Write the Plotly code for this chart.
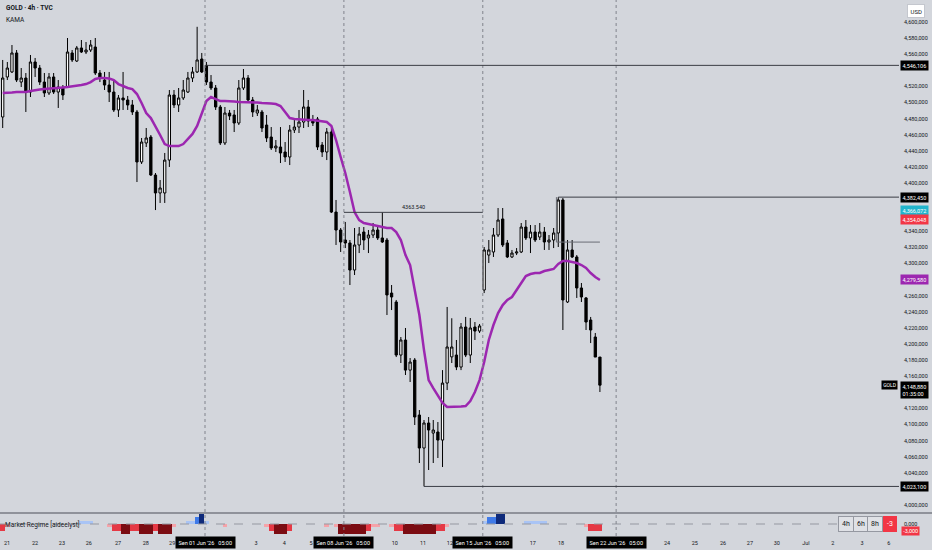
import plotly.graph_objects as go

# ---- data (GOLD 4h, TVC) ----
opens = [
    4482.0, 4531.7, 4537.9, 4561.5, 4525.4, 4530.4, 4513.0, 4550.3, 4542.8, 4525.4,
    4511.8, 4531.7, 4513.0, 4518.0, 4519.2, 4561.5, 4551.5, 4567.7, 4562.7, 4565.2,
    4568.9, 4536.6, 4527.9, 4521.7, 4513.0, 4490.7, 4505.6, 4503.1, 4496.9, 4488.2,
    4426.1, 4449.7, 4457.1, 4409.9, 4387.6, 4387.6, 4428.5, 4509.3, 4496.9, 4505.6,
    4513.0, 4530.4, 4537.9, 4554.0, 4546.1, 4525.4, 4518.0, 4494.4, 4449.7, 4486.9,
    4484.5, 4474.5, 4518.0, 4530.4, 4503.1, 4486.9, 4488.2, 4472.0, 4457.1, 4443.5,
    4444.7, 4438.5, 4432.3, 4465.8, 4469.5, 4475.7, 4494.4, 4478.2, 4479.5, 4447.2,
    4438.5, 4463.3, 4363.9, 4341.6, 4329.2, 4325.5, 4291.9, 4323.0, 4339.1, 4331.7,
    4335.4, 4341.6, 4331.7, 4329.2, 4263.3, 4252.2, 4186.3, 4205.0, 4167.6, 4180.1,
    4111.8, 4070.8, 4101.9, 4089.4, 4090.7, 4080.7, 4151.5, 4184.0, 4186.3, 4171.4,
    4221.1, 4186.3, 4221.1, 4216.1, 4267.1, 4310.5, 4314.3, 4335.4, 4355.3, 4325.5,
    4308.1, 4313.0, 4314.3, 4345.3, 4331.7, 4339.1, 4332.9, 4339.1, 4326.7, 4329.2,
    4337.9, 4378.9, 4252.2, 4316.8, 4308.1, 4269.6, 4257.2, 4229.8, 4208.7, 4183.8,
]
highs = [
    4552.8, 4550.3, 4571.4, 4565.2, 4542.8, 4536.6, 4559.0, 4555.3, 4546.6, 4536.6,
    4536.6, 4536.6, 4527.9, 4521.7, 4580.1, 4565.2, 4570.2, 4577.6, 4575.1, 4577.6,
    4580.1, 4540.3, 4537.9, 4537.9, 4527.9, 4509.3, 4537.9, 4508.1, 4503.1, 4490.7,
    4455.9, 4468.3, 4459.6, 4412.4, 4403.7, 4437.3, 4515.5, 4515.5, 4518.0, 4527.9,
    4537.9, 4544.1, 4594.0, 4561.5, 4550.3, 4534.1, 4521.7, 4496.9, 4494.4, 4490.7,
    4490.7, 4527.9, 4541.6, 4534.1, 4506.8, 4496.9, 4490.7, 4484.5, 4469.5, 4453.4,
    4469.5, 4450.9, 4472.0, 4478.2, 4490.7, 4515.5, 4503.1, 4484.5, 4482.0, 4450.9,
    4468.3, 4468.3, 4378.9, 4344.1, 4351.6, 4329.2, 4344.1, 4345.3, 4345.3, 4341.6,
    4350.3, 4347.8, 4363.5, 4331.7, 4273.3, 4254.7, 4208.7, 4219.9, 4182.6, 4182.6,
    4118.0, 4105.6, 4109.3, 4105.6, 4103.1, 4167.6, 4246.0, 4232.0, 4205.0, 4226.1,
    4233.6, 4232.3, 4227.3, 4224.9, 4320.5, 4329.2, 4344.1, 4368.9, 4368.9, 4329.2,
    4316.8, 4319.2, 4350.3, 4354.0, 4347.8, 4347.8, 4350.3, 4345.3, 4335.4, 4344.1,
    4382.45, 4381.4, 4329.2, 4329.2, 4310.5, 4275.8, 4258.4, 4233.6, 4213.7, 4183.8,
]
lows = [
    4468.3, 4527.9, 4536.6, 4525.4, 4519.2, 4488.2, 4506.8, 4531.7, 4521.7, 4506.8,
    4509.3, 4510.5, 4493.2, 4503.1, 4518.0, 4550.3, 4550.3, 4561.5, 4560.2, 4562.7,
    4534.1, 4525.4, 4515.5, 4500.6, 4488.2, 4482.0, 4490.7, 4490.7, 4484.5, 4401.2,
    4423.6, 4444.7, 4408.7, 4366.4, 4375.2, 4375.2, 4419.9, 4493.2, 4488.2, 4503.1,
    4511.8, 4525.4, 4536.6, 4536.6, 4521.7, 4515.5, 4490.7, 4447.2, 4447.2, 4478.2,
    4463.3, 4472.0, 4515.5, 4500.6, 4482.0, 4483.2, 4463.3, 4450.9, 4441.0, 4438.5,
    4424.8, 4426.1, 4422.3, 4462.1, 4462.1, 4468.3, 4469.5, 4470.8, 4441.0, 4432.3,
    4428.5, 4362.7, 4323.0, 4314.3, 4319.2, 4273.3, 4285.7, 4313.0, 4316.8, 4313.0,
    4331.7, 4329.2, 4325.5, 4236.0, 4242.2, 4183.8, 4176.4, 4161.5, 4152.8, 4099.4,
    4052.2, 4023.1, 4043.5, 4052.2, 4058.4, 4047.2, 4142.8, 4176.4, 4167.6, 4167.6,
    4183.8, 4176.4, 4205.0, 4213.7, 4263.3, 4300.6, 4308.1, 4332.9, 4320.5, 4306.8,
    4306.8, 4310.5, 4313.0, 4329.2, 4313.0, 4326.7, 4329.2, 4316.8, 4316.8, 4319.2,
    4320.5, 4217.4, 4250.9, 4306.8, 4257.2, 4252.2, 4217.4, 4201.2, 4183.8, 4140.4,
]
closes = [
    4530.4, 4542.8, 4561.5, 4527.9, 4530.4, 4513.0, 4550.3, 4542.8, 4525.4, 4511.8,
    4531.7, 4513.0, 4519.2, 4509.3, 4562.7, 4552.8, 4567.7, 4562.7, 4565.2, 4571.4,
    4536.6, 4530.4, 4521.7, 4513.0, 4490.7, 4505.6, 4503.1, 4496.9, 4488.2, 4426.1,
    4450.9, 4455.9, 4409.9, 4387.6, 4393.8, 4428.5, 4509.3, 4496.9, 4505.6, 4515.5,
    4530.4, 4537.9, 4552.8, 4537.9, 4525.4, 4518.0, 4494.4, 4449.7, 4486.9, 4483.2,
    4474.5, 4518.0, 4530.4, 4503.1, 4488.2, 4490.7, 4468.3, 4455.9, 4443.5, 4445.9,
    4437.3, 4432.3, 4465.8, 4469.5, 4475.7, 4494.4, 4477.0, 4474.5, 4444.7, 4438.5,
    4463.3, 4363.9, 4341.6, 4326.7, 4325.5, 4291.9, 4323.0, 4336.6, 4329.2, 4335.4,
    4341.6, 4331.7, 4326.7, 4260.9, 4258.4, 4186.3, 4205.0, 4167.6, 4177.6, 4109.3,
    4070.8, 4101.9, 4093.2, 4093.2, 4080.7, 4151.5, 4196.3, 4196.3, 4171.4, 4221.1,
    4186.3, 4219.9, 4216.1, 4222.4, 4316.8, 4316.8, 4335.4, 4354.0, 4323.0, 4308.1,
    4313.0, 4314.3, 4345.3, 4331.7, 4339.1, 4329.2, 4339.1, 4326.7, 4329.2, 4337.9,
    4378.9, 4254.7, 4316.8, 4308.1, 4269.6, 4258.4, 4227.3, 4217.4, 4183.8, 4148.88,
]
kama = [
    4511.8, 4511.8, 4512.4, 4513.0, 4513.0, 4513.0, 4514.3, 4515.5, 4516.1, 4516.7,
    4517.4, 4518.0, 4518.0, 4518.6, 4519.2, 4519.9, 4520.5, 4521.7, 4522.9, 4525.4,
    4529.2, 4530.4, 4530.4, 4529.8, 4527.9, 4522.9, 4520.5, 4518.0, 4516.7, 4510.5,
    4499.4, 4486.9, 4480.7, 4470.8, 4459.6, 4448.4, 4445.9, 4445.9, 4445.9, 4448.4,
    4454.6, 4460.9, 4470.8, 4485.7, 4501.8, 4506.8, 4504.3, 4501.8, 4501.8, 4501.8,
    4501.2, 4500.6, 4500.6, 4500.6, 4500.6, 4500.0, 4499.4, 4499.4, 4498.7, 4498.1,
    4495.6, 4488.2, 4480.7, 4479.5, 4478.9, 4478.2, 4478.2, 4478.2, 4477.6, 4477.0,
    4475.7, 4470.8, 4453.4, 4432.3, 4412.4, 4388.8, 4363.9, 4354.0, 4350.3, 4349.1,
    4347.8, 4346.6, 4345.3, 4344.1, 4344.1, 4339.1, 4329.2, 4310.5, 4298.1, 4267.1,
    4236.0, 4192.5, 4155.2, 4145.3, 4135.4, 4126.7, 4121.7, 4121.7, 4121.7, 4122.4,
    4123.0, 4129.2, 4140.4, 4155.2, 4177.6, 4205.0, 4223.6, 4238.5, 4248.4, 4254.7,
    4258.4, 4267.1, 4277.0, 4284.5, 4286.9, 4288.2, 4288.2, 4290.7, 4291.9, 4293.2,
    4299.4, 4303.1, 4303.1, 4301.8, 4300.6, 4298.1, 4294.4, 4288.2, 4283.2, 4279.58,
]
# Market Regime [aideelyst] histogram (-3 .. +3)
regime = [
    -2, -1, 0, 0, 0, 0, 0, 0, 0, 0,
    0, 0, 0, 0, 0, 0, 0, 1, 1, 1,
    0, 0, 0, -1, -2, -2, -3, -3, -2, -2,
    -3, -3, -3, -2, -3, -3, -3, -1, 0, 0,
    1, 1, 2, 3, 1, 0, 0, 0, -1, 0,
    0, 0, 0, 0, 0, 0, 0, -1, -2, -3,
    -3, -3, -2, 0, 0, 0, 0, 0, 0, 0,
    -1, 0, -1, -3, -3, -3, -3, -3, -3, -2,
    -1, -1, 0, 0, -1, -2, -2, -3, -3, -3,
    -3, -3, -3, -3, -2, -2, -1, 0, 0, 0,
    0, 0, 0, 0, 1, 2, 2, 3, 3, 0,
    0, 0, 0, 1, 1, 1, 1, 1, 0, 0,
    0, 0, 0, 0, 0, 0, -1, -2, -2, -2,
]

# time axis (bar index positions of the date labels)
day_ticks = [0.93, 6.98, 12.8, 18.6, 24.9, 30.9, 36.6, 54.7, 60.8, 66.6, 84.7, 90.8,
             96.6, 114.5, 120.6, 143.5, 149.5, 155.6, 161.4, 167.2, 173.5, 179.3, 185.6, 191.4]
day_labels = ["21", "22", "23", "26", "27", "28", "29", "3", "4", "5", "10", "11",
              "12", "17", "18", "24", "25", "26", "27", "30", "Jul", "2", "3", "6"]
week_starts = [43.7, 73.7, 103.7, 132.5]
week_labels = ["Sen 01 Jun '26", "Sen 08 Jun '26", "Sen 15 Jun '26", "Sen 22 Jun '26"]

price_ticks = [4000, 4040, 4060, 4080, 4100, 4120, 4160, 4180, 4200, 4220, 4240,
               4260, 4300, 4320, 4340, 4400, 4420, 4440, 4460, 4480, 4500, 4520, 4560,
               4580, 4600]

# horizontal levels: (price, start bar)
ray_prices = [4546.106, 4382.45, 4023.1]
ray_starts = [44, 120, 91]
seg_price = 4363.54
seg_from, seg_to = 73.7, 103.7
box_top, box_bottom = 4382.45, 4326.6
box_from, box_to = 119.6, 129

# price-scale badges
badges = [
    (4546.106, "4,546,106", "#000000"),
    (4382.45, "4,382,450", "#000000"),
    (4366.072, "4,366,072", "#22b5cc"),
    (4354.048, "4,354,048", "#f23645"),
    (4279.58, "4,279,580", "#9c27b0"),
    (4023.1, "4,023,100", "#000000"),
]

idx = list(range(len(closes)))
W, H = 932, 550
PLOT_R = 899 / W
XR = [-0.583, 193.6]
BG = "#d3d6dc"
FONT = "Roboto"
TXT = "#131722"


def py(pix):
    return 1 - pix / H


regime_colors = {-3: "#7b0c12", -2: "#e53945", -1: "#f5a3a9", 0: "rgba(0,0,0,0)",
                 1: "#a9c4f5", 2: "#3f7ae8", 3: "#0e2a7a"}

fig = go.Figure()

fig.add_trace(go.Candlestick(
    x=idx, open=opens, high=highs, low=lows, close=closes,
    increasing=dict(line=dict(color="#000000", width=1), fillcolor="#ffffff"),
    decreasing=dict(line=dict(color="#000000", width=1), fillcolor="#000000"),
    whiskerwidth=0, hoverinfo="skip",
))
fig.add_trace(go.Scatter(
    x=idx, y=kama, mode="lines",
    line=dict(color="#9c27b0", width=2.5), hoverinfo="skip",
))
fig.add_trace(go.Bar(
    x=idx, y=regime, yaxis="y2", width=1.0,
    marker=dict(color=[regime_colors[v] for v in regime], line=dict(width=0)),
    hoverinfo="skip",
))

shapes = []
# pane separator
shapes.append(dict(type="line", xref="paper", yref="paper", x0=0, x1=1,
                   y0=py(513), y1=py(513), line=dict(color="#8f929a", width=2)))
# regime zero line
shapes.append(dict(type="line", xref="x", yref="y2", x0=XR[0], x1=XR[1], y0=0, y1=0,
                   line=dict(color="#9598a1", width=1, dash="dash")))
# week separators
for w in week_starts:
    shapes.append(dict(type="line", xref="x", yref="paper", x0=w, x1=w,
                       y0=py(536), y1=1, line=dict(color="#80838c", width=1, dash="dot")))
# level rays
for p, s in zip(ray_prices, ray_starts):
    shapes.append(dict(type="line", xref="x", yref="y", x0=s, x1=XR[1], y0=p, y1=p,
                       line=dict(color="#3a3d45", width=1)))
shapes.append(dict(type="line", xref="x", yref="y", x0=seg_from, x1=seg_to,
                   y0=seg_price, y1=seg_price, line=dict(color="#3a3d45", width=1)))
shapes.append(dict(type="line", xref="x", yref="y", x0=box_from, x1=box_from,
                   y0=box_top, y1=box_bottom, line=dict(color="#6a6d75", width=1)))
shapes.append(dict(type="line", xref="x", yref="y", x0=box_from, x1=box_to,
                   y0=box_bottom, y1=box_bottom, line=dict(color="#6a6d75", width=1)))

ann = []
ann.append(dict(text="<b>GOLD · 4h · TVC</b>", xref="paper", yref="paper", x=4 / W, y=py(8),
                xanchor="left", yanchor="middle", showarrow=False,
                font=dict(size=6.5, color=TXT, family=FONT)))
ann.append(dict(text="KAMA", xref="paper", yref="paper", x=4 / W, y=py(20),
                xanchor="left", yanchor="middle", showarrow=False,
                font=dict(size=6.5, color=TXT, family=FONT)))
ann.append(dict(text="USD", xref="paper", yref="paper", x=916 / W, y=py(11),
                xanchor="center", yanchor="middle", showarrow=False,
                bgcolor="#ffffff", bordercolor="#c4c7ce", borderwidth=1, borderpad=2.5,
                font=dict(size=6, color=TXT, family=FONT)))
ann.append(dict(text=f"{seg_price:.3f}", xref="x", yref="y", x=(seg_from + seg_to) / 2,
                y=seg_price, yshift=5, showarrow=False,
                font=dict(size=5.5, color=TXT, family=FONT)))
for p, t, c in badges:
    ann.append(dict(text=t, xref="paper", yref="y", x=900 / W, y=p, xanchor="left",
                    yanchor="middle", showarrow=False, bgcolor=c, borderpad=1.5,
                    font=dict(size=5.5, color="#ffffff", family=FONT)))
# last price badge
ann.append(dict(text="4,148,880<br>01:35:00", xref="paper", yref="y", x=900 / W,
                y=closes[-1], xanchor="left", yanchor="top", yshift=4, showarrow=False,
                bgcolor="#000000", borderpad=1.5, align="left",
                font=dict(size=5.5, color="#ffffff", family=FONT)))
ann.append(dict(text="GOLD", xref="paper", yref="y", x=898 / W, y=closes[-1],
                xanchor="right", yanchor="middle", showarrow=False,
                bgcolor="#000000", borderpad=1.2,
                font=dict(size=5, color="#ffffff", family=FONT)))
# week date boxes on the time axis
for w, t in zip(week_starts, week_labels):
    ann.append(dict(text=f"{t}   05:00", xref="x", yref="paper", x=w, y=py(542),
                    xanchor="center", yanchor="middle", showarrow=False,
                    bgcolor="#000000", borderpad=2.5,
                    font=dict(size=5.5, color="#ffffff", family=FONT)))
# regime pane
ann.append(dict(text="Market Regime [aideelyst]", xref="paper", yref="paper", x=3 / W,
                y=py(524), xanchor="left", yanchor="middle", showarrow=False,
                font=dict(size=6.5, color=TXT, family=FONT)))
for i, t in enumerate(["4h", "6h", "8h"]):
    ann.append(dict(text=t, xref="paper", yref="paper", x=(846 + 14.5 * i) / W, y=py(524),
                    xanchor="center", yanchor="middle", showarrow=False,
                    bgcolor="#dfe1e6", bordercolor="#9598a1", borderwidth=1, borderpad=3,
                    font=dict(size=7, color=TXT, family=FONT)))
ann.append(dict(text="-3", xref="paper", yref="paper", x=890 / W, y=py(524),
                xanchor="center", yanchor="middle", showarrow=False,
                bgcolor="#f23645", bordercolor="#f23645", borderwidth=1, borderpad=3,
                font=dict(size=7, color="#ffffff", family=FONT)))
ann.append(dict(text="-3,000", xref="paper", yref="paper",
                x=901 / W, y=py(531), xanchor="left", yanchor="middle", showarrow=False,
                bgcolor="#f23645", borderpad=1.2,
                font=dict(size=5.5, color="#ffffff", family=FONT)))

fig.update_layout(
    width=W, height=H,
    margin=dict(l=0, r=0, t=0, b=0),
    paper_bgcolor=BG, plot_bgcolor=BG,
    showlegend=False,
    bargap=0,
    xaxis=dict(domain=[0, PLOT_R], range=XR, anchor="y2", showgrid=False, zeroline=False,
               showline=False, ticks="", tickvals=day_ticks, ticktext=day_labels,
               tickfont=dict(size=5.5, color=TXT, family=FONT), ticklabelstandoff=2,
               rangeslider=dict(visible=False), fixedrange=True),
    yaxis=dict(domain=[py(513), 1], range=[3990.1, 4627.3], side="right", anchor="x",
               showgrid=False, zeroline=False, showline=False, ticks="",
               tickvals=price_ticks, ticktext=[f"{v:,},000" for v in price_ticks],
               tickfont=dict(size=5.5, color=TXT, family=FONT), ticklabelstandoff=4),
    yaxis2=dict(domain=[py(536), py(514)], range=[-3.6, 3.0], side="right", anchor="x",
                showgrid=False, zeroline=False, showline=False, ticks="",
                tickvals=[0], ticktext=["0,000"],
                tickfont=dict(size=5.5, color=TXT, family=FONT), ticklabelstandoff=4),
    shapes=shapes,
    annotations=ann,
)

fig.write_html("out.html", config={"displayModeBar": False},
               post_script="document.body.style.margin='0px';")
